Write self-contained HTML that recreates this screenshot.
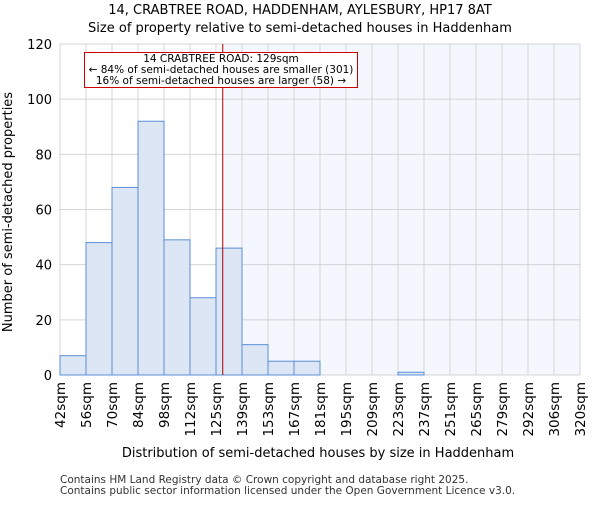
<!DOCTYPE html>
<html><head><meta charset="utf-8"><style>
body{margin:0;background:#fff}
svg text{font-family:"DejaVu Sans","Liberation Sans",sans-serif}
</style></head><body>
<svg id="c" width="600" height="500" xmlns="http://www.w3.org/2000/svg">
<text x="300" y="14" text-anchor="middle" font-size="13">14, CRABTREE ROAD, HADDENHAM, AYLESBURY, HP17 8AT</text>
<text x="300" y="32" text-anchor="middle" font-size="13">Size of property relative to semi-detached houses in Haddenham</text>
<g id="plot"></g>
<text x="318" y="457" text-anchor="middle" font-size="13">Distribution of semi-detached houses by size in Haddenham</text>
<text transform="translate(12,212) rotate(-90)" text-anchor="middle" font-size="13">Number of semi-detached properties</text>
<text x="60" y="483" font-size="10.5" fill="#333">Contains HM Land Registry data © Crown copyright and database right 2025.</text>
<text x="60" y="494" font-size="10.5" fill="#333">Contains public sector information licensed under the Open Government Licence v3.0.</text>
</svg>
<script>
const binLabels=["42sqm","56sqm","70sqm","84sqm","98sqm","112sqm","125sqm","139sqm","153sqm","167sqm","181sqm","195sqm","209sqm","223sqm","237sqm","251sqm","265sqm","279sqm","292sqm","306sqm","320sqm"];
const counts=[7,48,68,92,49,28,46,11,5,5,0,0,0,1,0,0,0,0,0,0];
const yTicks=[0,20,40,60,80,100,120];
const propertySize=129;
const binStart=42, binWidthSqm=13.9;
const NS="http://www.w3.org/2000/svg";
const L=60,R=580,T=44,B=375,n=counts.length,bw=(R-L)/n;
const x=i=>L+i*bw;
const y=v=>B-(v/120)*(B-T);
const xs=s=>L+((s-binStart)/binWidthSqm)*bw;
const g=document.getElementById('plot');
function mk(t,a){const e=document.createElementNS(NS,t);for(const k in a)e.setAttribute(k,a[k]);g.appendChild(e);return e;}
const px=xs(propertySize);
let e=mk('rect',{x:px,y:T,width:R-px,height:B-T,fill:'#f4f7fd'});


for(let i=0;i<=n;i++){e=mk('line',{x1:x(i),x2:x(i),y1:T,y2:B,stroke:'#d4d4d4'});

}
yTicks.forEach(v=>{e=mk('line',{x1:L,x2:R,y1:y(v),y2:y(v),stroke:'#d4d4d4'});


e=mk('text',{x:L-8,y:y(v)+5,'text-anchor':'end','font-size':13});e.textContent=v;

});
counts.forEach((c,i)=>{if(c<=0)return;e=mk('rect',{x:x(i),y:y(c),width:bw,height:B-y(c),fill:'#dce6f5',stroke:'#5b8fd6','stroke-width':1});

});
binLabels.forEach((l,i)=>{e=mk('text',{transform:`translate(${x(i)+5},382) rotate(-90)`,'text-anchor':'end','font-size':13.5});e.textContent=l;

});
e=mk('line',{x1:px,x2:px,y1:T,y2:B,stroke:'#aa0000','stroke-width':1});


e=mk('rect',{x:84.5,y:52.5,width:273,height:35,fill:'#fff',stroke:'#cc0000'});


["14 CRABTREE ROAD: 129sqm","← 84% of semi-detached houses are smaller (301)","16% of semi-detached houses are larger (58) →"].forEach((t,k)=>{
e=mk('text',{x:221,y:62+k*11,'text-anchor':'middle','font-size':10.5});e.textContent=t;

});
</script>
</body></html>
